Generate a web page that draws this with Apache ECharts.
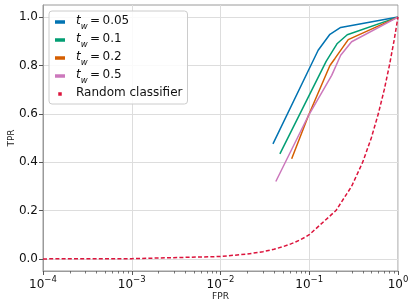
<!DOCTYPE html>
<html><head><meta charset="utf-8">
<script src="https://cdn.jsdelivr.net/npm/echarts@6/dist/echarts.min.js"></script>
<style>html,body{margin:0;padding:0;background:#fff}#c{width:415px;height:307px}</style>
</head><body><div id="c"></div>
<script>
// ---- data ----
const seriesNames = ['0.05', '0.1', '0.2', '0.5'];
const fpr005 = [0.039, 0.126, 0.171, 0.226, 1.0];
const tpr005 = [0.476, 0.863, 0.929, 0.957, 1.0];
const fpr01 = [0.0467, 0.155, 0.207, 0.268, 1.0];
const tpr01 = [0.434, 0.817, 0.891, 0.927, 1.0];
const fpr02 = [0.0634, 0.098, 0.171, 0.195, 0.275, 1.0];
const tpr02 = [0.414, 0.593, 0.80, 0.829, 0.907, 1.0];
const fpr05 = [0.042, 0.098, 0.179, 0.226, 0.30, 1.0];
const tpr05 = [0.32, 0.593, 0.759, 0.842, 0.898, 1.0];
const randX = [0.0001, 0.001, 0.01, 0.02, 0.03, 0.04, 0.05, 0.06, 0.07, 0.08, 0.09, 0.1, 0.2, 0.3, 0.4, 0.5, 0.6, 0.7, 0.8, 0.9, 1.0];
const randY = [0.0001, 0.001, 0.01, 0.02, 0.03, 0.04, 0.05, 0.06, 0.07, 0.08, 0.09, 0.1, 0.2, 0.3, 0.4, 0.5, 0.6, 0.7, 0.8, 0.9, 1.0];
const yTicks = [0, 0.2, 0.4, 0.6, 0.8, 1.0];
const xDecades = [0.0001, 0.001, 0.01, 0.1];
const minorMultipliers = [2, 3, 4, 5, 6, 7, 8, 9];

const xMinorTicks = [];
xDecades.forEach(d => minorMultipliers.forEach(k => xMinorTicks.push(d * k)));

const colors = ['#0173B2', '#029E73', '#D55E00', '#CC78BC'];
const fprs = [fpr005, fpr01, fpr02, fpr05];
const tprs = [tpr005, tpr01, tpr02, tpr05];
const zip = (a, b) => a.map((v, i) => [v, b[i]]);
const FONT = 'DejaVu Sans';

const series = seriesNames.map((n, i) => ({
  name: 'tw' + n, type: 'line', data: zip(fprs[i], tprs[i]),
  showSymbol: false, symbol: 'none', lineStyle: { color: colors[i], width: 1.5 },
  itemStyle: { color: colors[i] }, z: 3
}));
series.push({
  name: 'Random classifier', type: 'line', data: zip(randX, randY),
  showSymbol: false, symbol: 'none',
  lineStyle: { color: '#DC143C', width: 1.5, type: [4, 2.2] },
  itemStyle: { color: '#DC143C' }, z: 3
});
series.push({
  name: 'minor', type: 'custom', silent: true, clip: false,
  data: xMinorTicks.map(v => [v, -0.05]),
  renderItem: (params, api) => {
    const p = api.coord([api.value(0), api.value(1)]);
    return { type: 'line', shape: { x1: Math.round(p[0]) + 0.5, y1: p[1], x2: Math.round(p[0]) + 0.5, y2: p[1] + 2.5 },
      style: { stroke: '#555', lineWidth: 0.8 } };
  }
});

const chart = echarts.init(document.getElementById('c'), null, { renderer: 'canvas' });
chart.setOption({
  animation: false,
  grid: { left: 43, right: 17, top: 5, bottom: 36, containLabel: false, outerBoundsMode: 'none',
    show: true, borderColor: '#9a9a9a', borderWidth: 1, backgroundColor: 'transparent' },
  legend: {
    orient: 'vertical', left: 49, top: 11, padding: [4, 5, 3, 6],
    backgroundColor: 'rgba(255,255,255,0.85)', borderColor: '#cccccc', borderWidth: 1, borderRadius: 3,
    itemWidth: 10, itemHeight: 3.5, itemGap: 2, symbolKeepAspect: true,
    data: [
      { name: 'tw0.05', icon: 'rect' }, { name: 'tw0.1', icon: 'rect' },
      { name: 'tw0.2', icon: 'rect' }, { name: 'tw0.5', icon: 'rect' },
      { name: 'Random classifier', icon: 'path://M0,0h4v4h-4z' }
    ],
    formatter: name => name.startsWith('tw') ? '{t|t}{w|w}{n|\u2009=\u2009' + name.slice(2) + '}' : '{r|' + name + '}',
    textStyle: {
      fontFamily: FONT, fontSize: 12, color: '#111', padding: [0, 0, 0, 6],
      rich: {
        t: { fontFamily: FONT, fontStyle: 'italic', fontSize: 12, lineHeight: 14, verticalAlign: 'top', color: '#111' },
        w: { fontFamily: FONT, fontStyle: 'italic', fontSize: 8.5, lineHeight: 9, padding: [7, 0, 0, 0], verticalAlign: 'top', color: '#111' },
        n: { fontFamily: FONT, fontSize: 12, lineHeight: 14, verticalAlign: 'top', color: '#111' },
        r: { fontFamily: FONT, fontSize: 12, lineHeight: 14, padding: [0, 0, 2, 0], verticalAlign: 'top', color: '#111' }
      }
    }
  },
  xAxis: {
    type: 'log', logBase: 10, min: 0.0001, max: 1, interval: 1,
    name: 'FPR', nameLocation: 'middle', nameGap: 21, nameMoveOverlap: false,
    nameTextStyle: { fontFamily: FONT, fontSize: 9, color: '#222' },
    axisLine: { show: true, onZero: false, lineStyle: { color: '#9a9a9a' } },
    axisTick: { show: true, length: 4, lineStyle: { color: '#555' } },
    minorTick: { show: false },
    splitLine: { show: true, lineStyle: { color: '#dddddd', width: 1 } },
    axisLabel: {
      margin: 4, color: '#111',
      formatter: v => { const e = Math.round(Math.log10(v)); return '{b|10}{s|' + (e < 0 ? '\u2212' + (-e) : e) + '}'; },
      rich: {
        b: { fontFamily: FONT, fontSize: 12, lineHeight: 13, padding: [4, 0, 0, 0], verticalAlign: 'top', color: '#111' },
        s: { fontFamily: FONT, fontSize: 8.5, lineHeight: 9, verticalAlign: 'top', color: '#111' }
      }
    }
  },
  yAxis: {
    type: 'value', min: -0.05, max: 1.05,
    name: 'TPR', nameLocation: 'middle', nameGap: 27, nameMoveOverlap: false,
    nameTextStyle: { fontFamily: FONT, fontSize: 9, color: '#222' },
    axisLine: { show: true, lineStyle: { color: '#9a9a9a' } },
    axisTick: { show: true, length: 4, customValues: yTicks, lineStyle: { color: '#555' } },
    splitLine: { show: true, lineStyle: { color: '#dddddd', width: 1 } },
    axisLabel: { customValues: yTicks, margin: 5, fontFamily: FONT, fontSize: 12, color: '#111',
      formatter: v => v.toFixed(1) }
  },
  series: series
});
</script></body></html>
